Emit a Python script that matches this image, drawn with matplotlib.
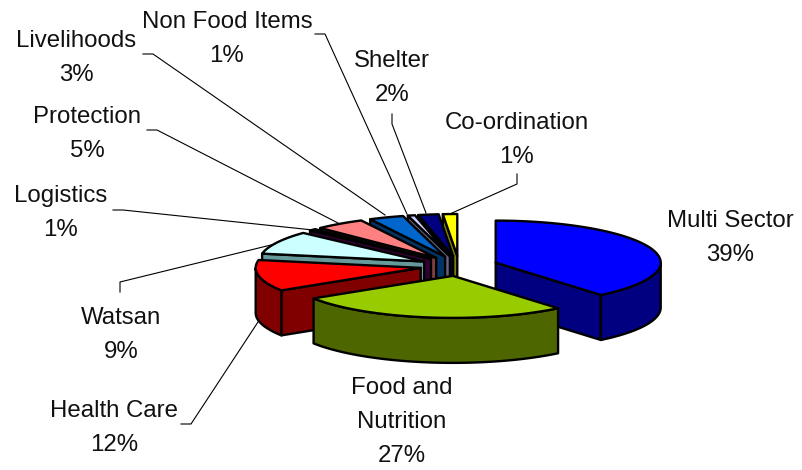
"""Exploded 3-D style pie of funding by sector, drawn on a pixel-sized axes."""

# --------------------------------------------------
# import necessary modules
# --------------------------------------------------
import matplotlib

matplotlib.use("Agg")
import matplotlib.pyplot as plt
import numpy as np
from matplotlib.patches import Polygon

plt.rcParams["font.family"] = ["Liberation Sans", "DejaVu Sans"]

# --------------------------------------------------
# data, clockwise from twelve o'clock
# --------------------------------------------------
sectors = ["Multi Sector", "Food and\nNutrition", "Health Care", "Watsan", "Logistics",
           "Protection", "Livelihoods", "Non Food Items", "Shelter", "Co-ordination"]
shares = [39, 27, 12, 8.9, 0.7, 4.9, 3.4, 0.7, 2.0, 1.4]
top_colors = ["#0000FF", "#99CC00", "#FF0000", "#CCFFFF", "#660066",
              "#FF8080", "#0066CC", "#CCCCFF", "#000080", "#FFFF00"]
side_colors = ["#000080", "#4D6600", "#800000", "#669999", "#330033",
               "#804040", "#003366", "#666680", "#000040", "#808000"]

# label centres and leader lines, in pixels
label_xy = [(730, 238), (402, 422), (114, 428), (121, 335), (61, 213),
            (87, 134), (76, 58), (227, 39), (392, 78), (517, 140)]
leaders = [
    None,
    None,
    [(181, 424), (191, 424), (258, 322)],
    [(120, 292), (120, 282), (275, 244)],
    [(113, 210), (123, 210), (313, 230)],
    [(147, 130), (157, 130), (338, 223)],
    [(143, 54), (153, 54), (385, 215)],
    [(315, 34), (325, 34), (407, 214)],
    [(392, 114), (392, 124), (426, 213)],
    [(517, 174), (517, 184), (452, 213)],
]

# pie geometry, in pixels
CX, CY = 459, 266
RX, RY = 165, 42
EX, EY = 39, 10
DEPTH = 45
LW = 1.7


def rim(ax0, ay0, a0, a1, dy=0.0):
    """Points along the ellipse between two clockwise angles (radians from top)."""
    t = np.linspace(a0, a1, max(int((a1 - a0) * 60), 2))
    return np.column_stack([ax0 + RX * np.sin(t), ay0 - RY * np.cos(t) + dy])


fig = plt.figure(figsize=(8.03, 4.70), dpi=100)
ax = fig.add_axes([0, 0, 1, 1])
ax.set_xlim(0, 803)
ax.set_ylim(470, 0)
ax.axis("off")

edges = np.radians(np.cumsum([0] + shares) * 3.6)

# paint back slices first, the food slice last
order = [9, 8, 7, 6, 5, 4, 3, 2, 0, 1]
for i in order:
    a0, a1 = edges[i], edges[i + 1]
    mid = 0.5 * (a0 + a1)
    px = CX + EX * np.sin(mid)
    py = CY - EY * np.cos(mid)
    kw = dict(ec="black", lw=LW, joinstyle="round")

    # radial wall on the leading edge when it faces the viewer
    if i == 0:
        wall_angle = a1
    else:
        wall_angle = a0
    if i != 1:
        end = rim(px, py, wall_angle, wall_angle)[0]
        wall = [(px, py), end, end + (0, DEPTH), (px, py + DEPTH)]
        ax.add_patch(Polygon(wall, fc=side_colors[i], **kw))

    # outer wall for the part of the arc in the front half
    lo = max(a0, np.pi / 2)
    hi = min(a1, 3 * np.pi / 2)
    if lo < hi:
        upper = rim(px, py, lo, hi)
        lower = rim(px, py, lo, hi, DEPTH)[::-1]
        ax.add_patch(Polygon(np.vstack([upper, lower]), fc=side_colors[i], **kw))

    # top face
    top = np.vstack([[(px, py)], rim(px, py, a0, a1)])
    ax.add_patch(Polygon(top, fc=top_colors[i], **kw))

# --------------------------------------------------
# leader lines and labels
# --------------------------------------------------
for pts in leaders:
    if pts is not None:
        xs, ys = zip(*pts)
        ax.plot(xs, ys, color="black", lw=0.8)

for name, share, (x, y) in zip(sectors, shares, label_xy):
    ax.text(x, y, f"{name}\n{round(share)}%", ha="center", va="center", ma="center",
            fontsize=17.3, linespacing=1.68, color="#111111")

fig.savefig("out.png", dpi=100)
